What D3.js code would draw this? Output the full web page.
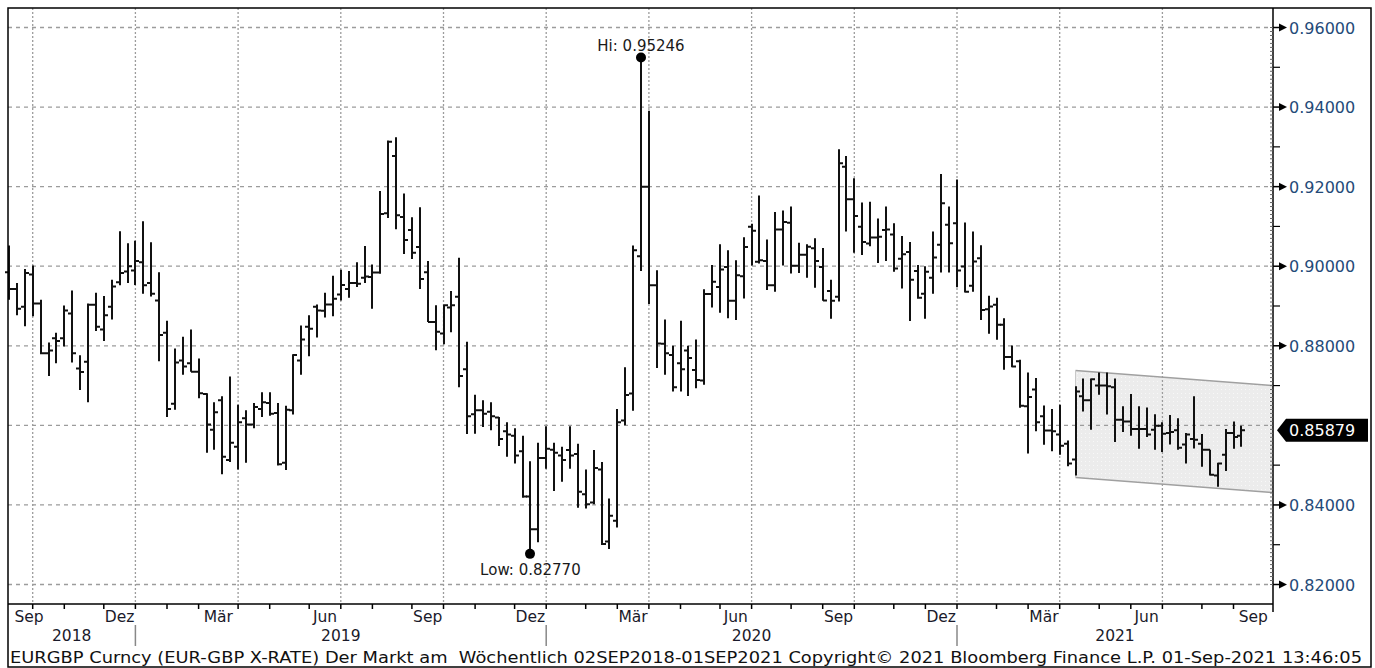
<!DOCTYPE html>
<html><head><meta charset="utf-8">
<script src="https://cdn.jsdelivr.net/npm/d3@7"></script>
<style>
body{margin:0;background:#fff;}
svg{display:block;}
text{font-family:"DejaVu Sans",Verdana,sans-serif;}
</style>
</head><body>
<svg id="chart" width="1375" height="668"></svg>
<script>
// ---- DATA (weekly EUR/GBP OHLC) ----
const firstWeek = "2018-09-07"; // first weekly bar (Friday)
const opens = [0.8985,0.8943,0.8898,0.8979,0.8906,0.8781,0.8819,0.8819,0.8881,0.8743,
0.8760,0.8903,0.8841,0.8898,0.8960,0.8987,0.8989,0.9010,0.8958,0.8914,
0.8833,0.8654,0.8763,0.8756,0.8735,0.8679,0.8589,0.8663,0.8513,0.8546,
0.8618,0.8602,0.8641,0.8656,0.8631,0.8506,0.8638,0.8763,0.8848,0.8898,
0.8888,0.8904,0.8929,0.8943,0.8958,0.8971,0.8973,0.8984,0.9133,0.9277,
0.9124,0.9091,0.9048,0.8985,0.8860,0.8831,0.8896,0.8923,0.8741,0.8628,
0.8638,0.8634,0.8620,0.8585,0.8574,0.8535,0.8421,0.8339,0.8518,0.8539,
0.8524,0.8538,0.8528,0.8427,0.8406,0.8489,0.8308,0.8360,0.8612,0.8680,
0.9025,0.9200,0.8952,0.8805,0.8777,0.8756,0.8788,0.8739,0.8713,0.8930,
0.8948,0.8998,0.8913,0.8975,0.9099,0.9011,0.9013,0.8952,0.9092,0.9109,
0.9001,0.9029,0.9045,0.8998,0.8938,0.8923,0.9250,0.9168,0.9099,0.9057,
0.9072,0.9091,0.9080,0.9019,0.9036,0.8988,0.8931,0.8971,0.9054,0.9104,
0.9108,0.8999,0.8951,0.9020,0.8892,0.8903,0.8853,0.8772,0.8761,0.8648,
0.8690,0.8623,0.8587,0.8577,0.8554,0.8514,0.8673,0.8663,0.8700,0.8700,
0.8696,0.8614,0.8610,0.8591,0.8591,0.8589,0.8599,0.8581,0.8588,0.8552,
0.8566,0.8554,0.8539,0.8474,0.8526,0.8581,0.8574];
const highs = [0.9052,0.8958,0.8993,0.9002,0.8916,0.8808,0.8833,0.8901,0.8939,0.8776,
0.8906,0.8933,0.8925,0.8966,0.9088,0.9058,0.9064,0.9113,0.9060,0.8985,
0.8863,0.8793,0.8823,0.8841,0.8768,0.8681,0.8658,0.8673,0.8723,0.8652,
0.8638,0.8656,0.8683,0.8683,0.8656,0.8649,0.8779,0.8851,0.8877,0.8904,
0.8933,0.8976,0.8991,0.8988,0.9010,0.9051,0.9004,0.9189,0.9316,0.9324,
0.9183,0.9123,0.9148,0.9013,0.8902,0.8904,0.8938,0.9021,0.8810,0.8677,
0.8663,0.8658,0.8621,0.8608,0.8593,0.8574,0.8510,0.8556,0.8598,0.8556,
0.8546,0.8598,0.8554,0.8489,0.8538,0.8508,0.8416,0.8641,0.8746,0.9052,
0.95246,0.9391,0.8990,0.8866,0.8800,0.8863,0.8800,0.8816,0.8942,0.9003,
0.9055,0.9040,0.9015,0.9073,0.9107,0.9178,0.9067,0.9136,0.9140,0.9150,
0.9059,0.9055,0.9070,0.9046,0.8966,0.9294,0.9277,0.9221,0.9160,0.9162,
0.9120,0.9150,0.9108,0.9076,0.9061,0.9003,0.9000,0.9087,0.9232,0.9150,
0.9218,0.9110,0.9087,0.9053,0.8926,0.8921,0.8869,0.8801,0.8765,0.8733,
0.8719,0.8650,0.8641,0.8652,0.8562,0.8698,0.8718,0.8718,0.8733,0.8733,
0.8718,0.8648,0.8679,0.8648,0.8645,0.8628,0.8608,0.8626,0.8618,0.8581,
0.8673,0.8578,0.8539,0.8506,0.8591,0.8610,0.8599];
const lows = [0.8916,0.8877,0.8849,0.8874,0.8779,0.8724,0.8756,0.8798,0.8758,0.8689,
0.8658,0.8837,0.8812,0.8866,0.8952,0.8958,0.8953,0.8931,0.8924,0.8761,
0.8621,0.8639,0.8727,0.8735,0.8668,0.8531,0.8539,0.8477,0.8508,0.8489,
0.8506,0.8593,0.8621,0.8624,0.8499,0.8488,0.8627,0.8727,0.8774,0.8821,
0.8871,0.8874,0.8914,0.8921,0.8948,0.8958,0.8893,0.8981,0.9121,0.9093,
0.9031,0.9018,0.8943,0.8860,0.8789,0.8804,0.8834,0.8696,0.8578,0.8579,
0.8596,0.8588,0.8548,0.8521,0.8504,0.8418,0.8277,0.8306,0.8491,0.8435,
0.8458,0.8491,0.8393,0.8391,0.8402,0.8299,0.8289,0.8343,0.8600,0.8637,
0.8988,0.8905,0.8744,0.8727,0.8685,0.8685,0.8674,0.8693,0.8702,0.8896,
0.8883,0.8869,0.8865,0.8919,0.9002,0.9007,0.8940,0.8936,0.9002,0.8982,
0.8983,0.8971,0.8946,0.8913,0.8868,0.8911,0.9087,0.9034,0.9028,0.9050,
0.9008,0.9013,0.8986,0.8944,0.8862,0.8918,0.8868,0.8931,0.8984,0.8984,
0.8947,0.8934,0.8936,0.8865,0.8830,0.8815,0.8740,0.8746,0.8644,0.8529,
0.8585,0.8551,0.8535,0.8526,0.8497,0.8474,0.8635,0.8589,0.8677,0.8627,
0.8558,0.8583,0.8574,0.8541,0.8571,0.8539,0.8533,0.8552,0.8539,0.8504,
0.8542,0.8496,0.8474,0.8446,0.8485,0.8541,0.8546];
const closes = [0.8943,0.8893,0.8983,0.8906,0.8781,0.8788,0.8812,0.8889,0.8781,0.8734,
0.8903,0.8848,0.8877,0.8949,0.8983,0.9000,0.9013,0.8952,0.8931,0.8827,
0.8641,0.8758,0.8748,0.8735,0.8681,0.8602,0.8633,0.8521,0.8556,0.8608,
0.8602,0.8646,0.8658,0.8629,0.8502,0.8639,0.8777,0.8816,0.8843,0.8889,
0.8904,0.8918,0.8953,0.8958,0.8956,0.8974,0.8984,0.9131,0.9313,0.9128,
0.9066,0.9034,0.8968,0.8860,0.8835,0.8902,0.8902,0.8724,0.8623,0.8638,
0.8629,0.8623,0.8566,0.8577,0.8524,0.8421,0.8339,0.8518,0.8541,0.8531,
0.8513,0.8524,0.8433,0.8402,0.8493,0.8302,0.8373,0.8608,0.8676,0.9040,
0.9200,0.8952,0.8806,0.8781,0.8696,0.8741,0.8769,0.8714,0.8930,0.8961,
0.8992,0.8913,0.8977,0.9048,0.9089,0.9015,0.8952,0.9092,0.9111,0.9001,
0.9029,0.9049,0.9013,0.8914,0.8913,0.9259,0.9168,0.9126,0.9061,0.9072,
0.9074,0.9092,0.8994,0.9030,0.8966,0.8921,0.8986,0.9022,0.9158,0.9058,
0.8989,0.8936,0.9012,0.8890,0.8899,0.8853,0.8772,0.8748,0.8649,0.8671,
0.8608,0.8587,0.8585,0.8549,0.8504,0.8685,0.8663,0.8716,0.8700,0.8698,
0.8614,0.8610,0.8591,0.8591,0.8577,0.8599,0.8579,0.8583,0.8544,0.8577,
0.8564,0.8539,0.8476,0.8504,0.8581,0.8571,0.85879];
const yTickValues = [0.82,0.84,0.86,0.88,0.90,0.92,0.94,0.96];
const yTickLabels = ["0.82000","0.84000","0.86000","0.88000","0.90000","0.92000","0.94000","0.96000"];
const monthLabels = {2:"Mär",5:"Jun",8:"Sep",11:"Dez"};
const yearLabels = ["2018","2019","2020","2021"];
const lastPrice = 0.85879, lastPriceLabel = "0.85879";
const hiPoint = {index:80, value:0.95246, label:"Hi: 0.95246"};
const lowPoint = {index:66, value:0.82770, label:"Low: 0.82770"};
const channelIndex = [135,160];
const channelTop = [0.8738,0.8700];
const channelBottom = [0.8469,0.8431];
const footerText = "EURGBP Curncy (EUR-GBP X-RATE) Der Markt am  Wöchentlich 02SEP2018-01SEP2021 Copyright© 2021 Bloomberg Finance L.P. 01-Sep-2021 13:46:05";

// ---- LAYOUT ----
const L=8, R=1273, T=8, B=604;
const svg = d3.select("#chart");
const n = closes.length;
const start = new Date(firstWeek+"T00:00:00Z");
const dates = d3.range(n).map(i=>d3.utcDay.offset(start, 7*i));
const x = d3.scaleUtc().domain([dates[0], dates[n-1]]).range([9, 9+7.9*(n-1)]);
const xi = i => x(d3.utcDay.offset(start, 7*i));
const y = d3.scaleLinear().domain([0.82,0.96]).range([584.5,27.5]);

svg.append("rect").attr("width",1375).attr("height",668).attr("fill","#fff");

// channel
const defs = svg.append("defs");
const pat = defs.append("pattern").attr("id","speck").attr("width",4).attr("height",4).attr("patternUnits","userSpaceOnUse");
pat.append("rect").attr("width",4).attr("height",4).attr("fill","#ececec");
pat.append("rect").attr("x",1).attr("y",1).attr("width",1).attr("height",1).attr("fill","#f8f8f8");
const chPts = [[xi(channelIndex[0]),y(channelTop[0])],[xi(channelIndex[1]),y(channelTop[1])],
               [xi(channelIndex[1]),y(channelBottom[1])],[xi(channelIndex[0]),y(channelBottom[0])]];
svg.append("polygon").attr("points",chPts.map(p=>p.join(",")).join(" "))
  .attr("fill","url(#speck)").attr("stroke","none");
svg.append("line").attr("x1",chPts[0][0]).attr("y1",chPts[0][1]).attr("x2",chPts[1][0]).attr("y2",chPts[1][1]).attr("stroke","#a0a0a0").attr("stroke-width",1.5);
svg.append("line").attr("x1",chPts[3][0]).attr("y1",chPts[3][1]).attr("x2",chPts[2][0]).attr("y2",chPts[2][1]).attr("stroke","#a0a0a0").attr("stroke-width",1.5);
svg.append("line").attr("x1",chPts[0][0]).attr("y1",chPts[0][1]).attr("x2",chPts[3][0]).attr("y2",chPts[3][1]).attr("stroke","#c8c8c8").attr("stroke-width",1);

// month ticks: last weekly bar of each month
const monthTicks = [];
for (let i=0;i<n;i++){
  const d=dates[i], nx = d3.utcDay.offset(d,7);
  if (nx.getUTCMonth()!==d.getUTCMonth()) monthTicks.push({i, d, x:xi(i)});
}
// horizontal grid
svg.append("g").selectAll("line").data(yTickValues).join("line")
  .attr("x1",L).attr("x2",R).attr("y1",d=>y(d)).attr("y2",d=>y(d))
  .attr("stroke","#9c9c9c").attr("stroke-width",1.3).attr("stroke-dasharray","4,4");
// vertical grid at quarter months
const quarterTicks = monthTicks.filter(t=>monthLabels[t.d.getUTCMonth()]!==undefined);
svg.append("g").selectAll("line").data(quarterTicks).join("line")
  .attr("x1",d=>d.x).attr("x2",d=>d.x).attr("y1",T).attr("y2",B)
  .attr("stroke","#9c9c9c").attr("stroke-width",1.3).attr("stroke-dasharray","2,2");

// OHLC bars
const bars = svg.append("g").attr("stroke","#111").attr("stroke-width",2).attr("fill","none");
bars.selectAll("path").data(d3.range(n)).join("path")
  .attr("d", i=>{
    const cx=Math.round(xi(i));
    return `M${cx},${y(highs[i])}V${y(lows[i])}M${cx-4},${y(opens[i])}H${cx}M${cx},${y(closes[i])}H${cx+4}`;
  });

// Hi / Low markers
svg.append("circle").attr("cx",Math.round(xi(hiPoint.index))).attr("cy",y(hiPoint.value)).attr("r",5).attr("fill","#000");
svg.append("text").attr("x",xi(hiPoint.index)).attr("y",y(hiPoint.value)-6).attr("text-anchor","middle")
  .attr("font-size",15).attr("fill","#1a1a1a").text(hiPoint.label);
svg.append("circle").attr("cx",Math.round(xi(lowPoint.index))).attr("cy",y(lowPoint.value)).attr("r",5).attr("fill","#000");
svg.append("text").attr("x",xi(lowPoint.index)).attr("y",y(lowPoint.value)+21).attr("text-anchor","middle")
  .attr("font-size",15).attr("fill","#1a1a1a").text(lowPoint.label);

// bottom axis
svg.append("line").attr("x1",L).attr("x2",R).attr("y1",B).attr("y2",B).attr("stroke","#000").attr("stroke-width",1.5);
svg.append("g").selectAll("line").data(monthTicks).join("line")
  .attr("x1",d=>d.x).attr("x2",d=>d.x).attr("y1",B).attr("y2",B+5).attr("stroke","#000").attr("stroke-width",1.5);
// month labels centred in month interval
const labelData = [];
monthTicks.forEach((t,k)=>{
  const m=t.d.getUTCMonth();
  if (monthLabels[m]!==undefined){
    const prev = k>0 ? monthTicks[k-1].x : L;
    let cx=(prev+t.x)/2; cx=Math.max(cx, L+21);
    labelData.push({cx, text:monthLabels[m]});
  }
});
// trailing (partial) month after last tick
{
  const lastT = monthTicks[monthTicks.length-1];
  const m = (lastT.d.getUTCMonth()+1)%12;
  if (monthLabels[m]!==undefined) labelData.push({cx:(lastT.x+R)/2, text:monthLabels[m]});
}
svg.append("g").selectAll("text").data(labelData).join("text")
  .attr("x",d=>d.cx).attr("y",622).attr("text-anchor","middle").attr("font-size",15.5).attr("fill","#1a1a2a").text(d=>d.text);
// year separators & labels
const decTicks = monthTicks.filter(t=>t.d.getUTCMonth()===11);
svg.append("g").selectAll("line").data(decTicks).join("line")
  .attr("x1",d=>d.x).attr("x2",d=>d.x).attr("y1",625).attr("y2",646).attr("stroke","#888").attr("stroke-width",1.5);
const yb = [L, ...decTicks.map(t=>t.x), R];
svg.append("g").selectAll("text").data(yearLabels).join("text")
  .attr("x",(d,k)=>(yb[k]+yb[k+1])/2).attr("y",641).attr("text-anchor","middle").attr("font-size",15.5).attr("fill","#1a1a2a").text(d=>d);

// right axis
svg.append("line").attr("x1",R).attr("x2",R).attr("y1",T).attr("y2",612).attr("stroke","#000").attr("stroke-width",1.5);
const fine = d3.range(820,961).map(v=>v/1000);
svg.append("g").selectAll("line").data(fine).join("line")
  .attr("x1",R-3).attr("x2",R).attr("y1",d=>y(d)).attr("y2",d=>y(d)).attr("stroke","#666").attr("stroke-width",1);
const halfTicks = yTickValues.slice(0,-1).map(v=>v+0.01);
svg.append("g").selectAll("line").data(halfTicks).join("line")
  .attr("x1",R).attr("x2",R+7).attr("y1",d=>y(d)).attr("y2",d=>y(d)).attr("stroke","#000").attr("stroke-width",1.2);
// major tick labels (the one hidden behind the last-price tag is skipped, as in the reference)
const yp = y(lastPrice);
const visibleTicks = yTickValues.map((v,k)=>({v,label:yTickLabels[k]})).filter(d=>Math.abs(y(d.v)-yp)>14);
const rt = svg.append("g");
rt.selectAll("line").data(visibleTicks).join("line")
  .attr("x1",R).attr("x2",R+7).attr("y1",d=>y(d.v)).attr("y2",d=>y(d.v)).attr("stroke","#000").attr("stroke-width",1.5);
rt.selectAll("path").data(visibleTicks).join("path")
  .attr("d",d=>`M${R+6},${y(d.v)-4}L${R+14},${y(d.v)}L${R+6},${y(d.v)+4}Z`).attr("fill","#000");
rt.selectAll("text").data(visibleTicks).join("text")
  .attr("x",R+16).attr("y",d=>y(d.v)+6).attr("font-size",16).attr("fill","#244a78").text(d=>d.label);

// last price tag
svg.append("path").attr("d",`M${R+4},${yp}L${R+13},${yp-11.5}H1368V${yp+11.5}H${R+13}Z`).attr("fill","#000");
svg.append("text").attr("x",R+16).attr("y",yp+6).attr("font-size",16).attr("fill","#fff").text(lastPriceLabel);

// frame
svg.append("rect").attr("x",L).attr("y",T).attr("width",1371-L).attr("height",667-T)
  .attr("fill","none").attr("stroke","#000").attr("stroke-width",1.5);

// footer
svg.append("text").attr("x",10).attr("y",663).attr("font-size",15).attr("fill","#111")
  .attr("textLength",1352).attr("lengthAdjust","spacingAndGlyphs").style("white-space","pre").text(footerText);
</script>
</body></html>
